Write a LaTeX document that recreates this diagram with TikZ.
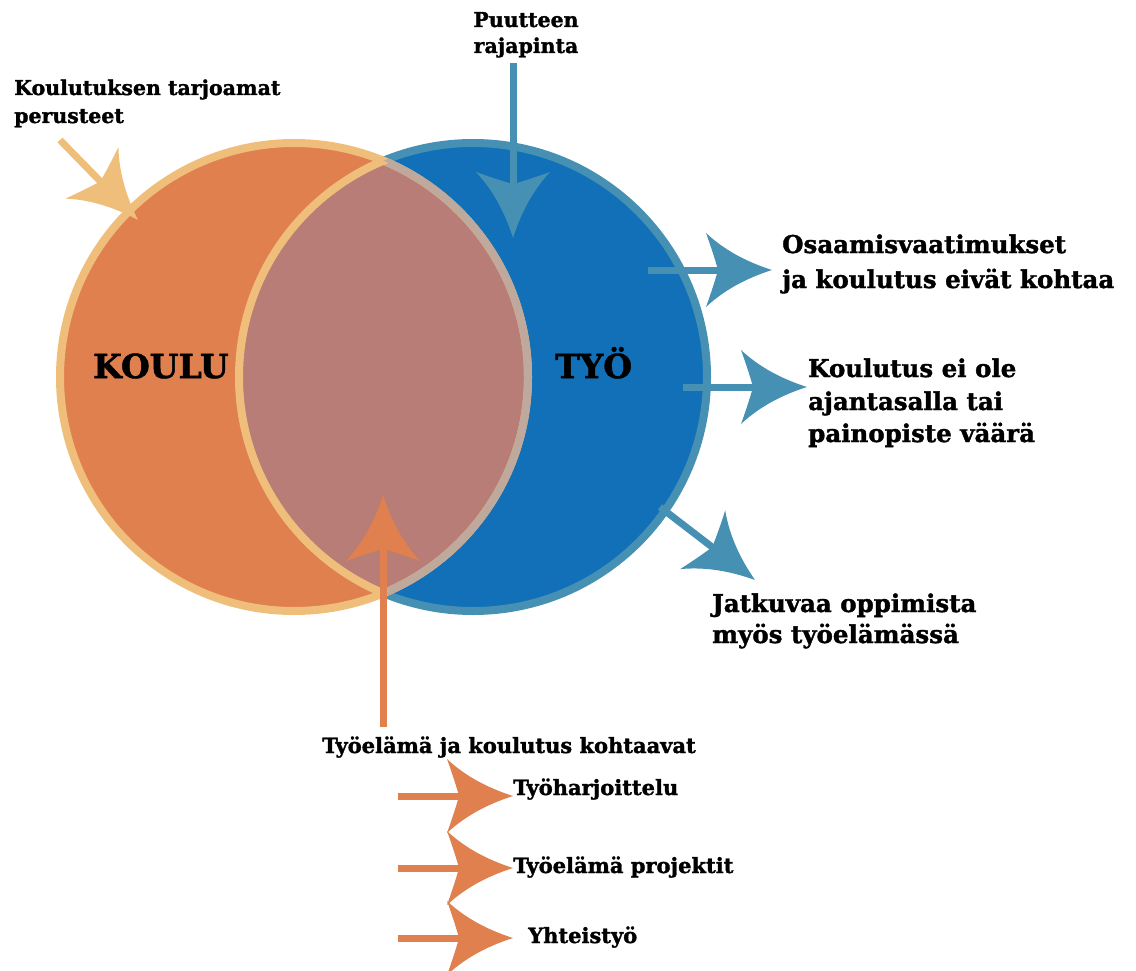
\documentclass[tikz,border=0pt]{standalone}
\usepackage{fontspec}
\setmainfont{DejaVu Serif}
\newfontfamily\heavy{DejaVu Serif Bold}[FakeBold=1.5]
\usetikzlibrary{arrows.meta}
\definecolor{orfill}{HTML}{E0804F}
\definecolor{orlight}{HTML}{F0BE7B}
\definecolor{bfill}{HTML}{1170B7}
\definecolor{bline}{HTML}{4690B3}
\definecolor{lensc}{HTML}{B77D76}
\definecolor{lensl}{HTML}{BFA89C}
\pgfdeclarearrow{
  name = FlareTip,
  defaults = {length = 66pt, width = 74pt, inset = 12pt},
  setup code = {
    \pgfarrowssettipend{0pt}
    \pgfarrowssetbackend{-\pgfarrowlength}
    \pgfarrowssetlineend{-.45\pgfarrowlength}
    \pgfarrowssavethe\pgfarrowlength
    \pgfarrowssavethe\pgfarrowwidth
    \pgfarrowssavethe\pgfarrowinset
  },
  drawing code = {
    \pgfpathmoveto{\pgfpointorigin}
    \pgfpathcurveto{\pgfpoint{-.35\pgfarrowlength}{.1\pgfarrowwidth}}{\pgfpoint{-.7\pgfarrowlength}{.25\pgfarrowwidth}}{\pgfpoint{-\pgfarrowlength}{.5\pgfarrowwidth}}
    \pgfpathcurveto{\pgfpoint{-\pgfarrowlength+.45\pgfarrowinset}{.3\pgfarrowwidth}}{\pgfpoint{-\pgfarrowlength+.8\pgfarrowinset}{.12\pgfarrowwidth}}{\pgfpoint{-\pgfarrowlength+\pgfarrowinset}{0pt}}
    \pgfpathcurveto{\pgfpoint{-\pgfarrowlength+.8\pgfarrowinset}{-.12\pgfarrowwidth}}{\pgfpoint{-\pgfarrowlength+.45\pgfarrowinset}{-.3\pgfarrowwidth}}{\pgfpoint{-\pgfarrowlength}{-.5\pgfarrowwidth}}
    \pgfpathcurveto{\pgfpoint{-.7\pgfarrowlength}{-.25\pgfarrowwidth}}{\pgfpoint{-.35\pgfarrowlength}{-.1\pgfarrowwidth}}{\pgfpointorigin}
    \pgfpathclose
    \pgfusepathqfill
  },
  parameters = {\the\pgfarrowlength,\the\pgfarrowwidth,\the\pgfarrowinset},
}
\begin{document}
\begin{tikzpicture}[x=1pt,y=-1pt,
  ring/.style={line width=8pt},
  bigarrow/.style={line width=7pt,-{FlareTip[length=66pt,width=74pt,inset=12pt]}},
  lblA/.style={font=\heavy\fontsize{24.5}{28}\selectfont, anchor=base west, inner sep=0pt},
  lblB/.style={font=\heavy\fontsize{20.5}{24}\selectfont, anchor=base west, inner sep=0pt},
  lblC/.style={font=\heavy\fontsize{21}{24}\selectfont, anchor=base west, inner sep=0pt},
  lblBig/.style={font=\heavy\fontsize{33}{36}\selectfont, anchor=base west, inner sep=0pt}]
\useasboundingbox (0,0) rectangle (1136,971);
\coordinate (L) at (294,377);
\coordinate (R) at (473,377);
% circles
\fill[bfill] (R) circle[radius=234pt];
\draw[bline,ring] (R) circle[radius=234pt];
\fill[orfill] (L) circle[radius=234pt];
\begin{scope}
  \clip (L) circle[radius=234pt];
  \fill[lensc] (R) circle[radius=234pt];
\end{scope}
\draw[orlight,ring] (L) circle[radius=234pt];
\begin{scope}
  \clip (R) circle[radius=234pt];
  \draw[lensl,ring] (L) circle[radius=234pt];
\end{scope}
\begin{scope}
  \clip (L) circle[radius=234pt];
  \draw[orlight,ring] (R) circle[radius=234pt];
\end{scope}
% big labels
\node[lblBig] (koulu) at (93,378) {KOULU};
\node[lblBig] (tyo) at (555,378) {TYÖ};
% arrow coordinates
\coordinate (tlA) at (60,140);  \coordinate (tlB) at (138,220);
\coordinate (pdA) at (513,63);  \coordinate (pdB) at (513,238);
\coordinate (r1A) at (648,270); \coordinate (r1B) at (772,270);
\coordinate (r2A) at (683,387); \coordinate (r2B) at (807,387);
\coordinate (dgA) at (660,507); \coordinate (dgB) at (755,580);
\coordinate (upA) at (383,727); \coordinate (upB) at (383,495);
\coordinate (b1A) at (398,796); \coordinate (b1B) at (513,796);
\coordinate (b2A) at (398,868); \coordinate (b2B) at (513,868);
\coordinate (b3A) at (398,938); \coordinate (b3B) at (513,938);
% arrows
\draw[bigarrow,orlight] (tlA) -- (tlB);
\draw[bigarrow,bline] (pdA) -- (pdB);
\draw[bigarrow,bline] (r1A) -- (r1B);
\draw[bigarrow,bline] (r2A) -- (r2B);
\draw[bigarrow,bline] (dgA) -- (dgB);
\draw[bigarrow,orfill] (upA) -- (upB);
\draw[bigarrow,orfill] (b1A) -- (b1B);
\draw[bigarrow,orfill] (b2A) -- (b2B);
\draw[bigarrow,orfill] (b3A) -- (b3B);
% labels
\node[lblB] (kt1) at (14,95) {Koulutuksen tarjoamat};
\node[lblB] (kt2) at (14,123) {perusteet};
\node[lblB,anchor=base] (pr1) at (526,27) {Puutteen};
\node[lblB,anchor=base] (pr2) at (526,53) {rajapinta};
\node[lblA] (os1) at (782,253) {Osaamisvaatimukset};
\node[lblA] (os2) at (782,288) {ja koulutus eivät kohtaa};
\node[lblA] (ke1) at (808,377) {Koulutus ei ole};
\node[lblA] (ke2) at (808,410) {ajantasalla tai};
\node[lblA] (ke3) at (808,442) {painopiste väärä};
\node[lblA] (ja1) at (712,612) {Jatkuvaa oppimista};
\node[lblA] (ja2) at (712,643) {myös työelämässä};
\node[lblC] (tk) at (322,753) {Työelämä ja koulutus kohtaavat};
\node[lblC] (th) at (513,795) {Työharjoittelu};
\node[lblC] (tp) at (513,873) {Työelämä projektit};
\node[lblC] (yh) at (528,943) {Yhteistyö};
\end{tikzpicture}
\end{document}
